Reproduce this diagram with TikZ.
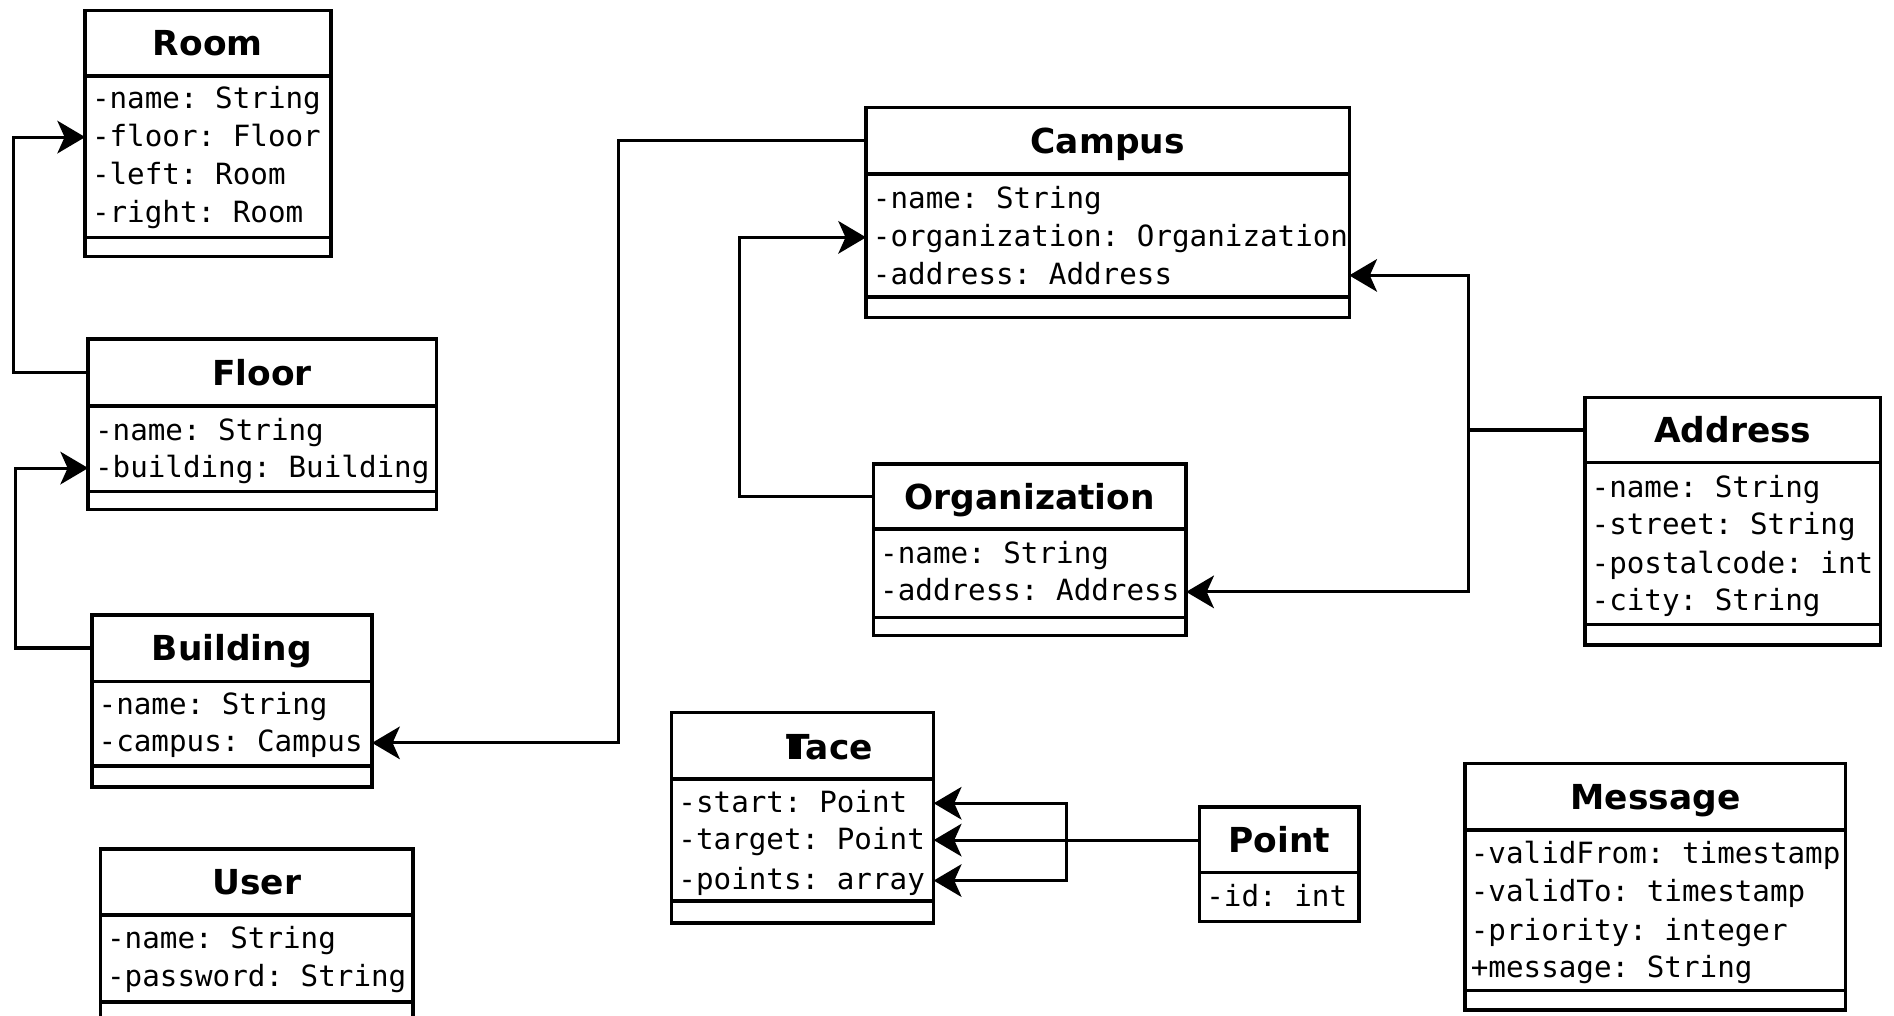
\documentclass[tikz,border=0pt]{standalone}
\usepackage{fontspec}
\setmainfont{DejaVu Sans}
\setmonofont{DejaVu Sans Mono}
\usetikzlibrary{arrows.meta}

% class box: name, left, top, right, header bottom, attribute bottom, bottom
\newcommand\umlbox[7]{%
  \node[clsbox, anchor=north west, minimum width={(#4)-(#2)}, minimum height={(#7)-(#3)}] (#1) at (#2,#3) {};
  \draw[sep] (#2,#5) -- (#4,#5);
  \draw[sep] (#2,#6) -- (#4,#6);
}

\begin{document}
\begin{tikzpicture}[x=1pt, y=-1pt,
  clsbox/.style={draw, line width=2.9pt, rectangle, inner sep=0pt, outer sep=0pt, fill=white},
  sep/.style={line width=2.9pt},
  ttl/.style={inner sep=0pt, font=\fontsize{28.5}{30}\selectfont\bfseries, text height=20.8pt, text depth=0pt},
  attr/.style={anchor=west, inner sep=0pt, font=\ttfamily\fontsize{24.2}{26}\selectfont, text height=19pt, text depth=4pt},
  conn/.style={line width=2.6pt, -{Stealth[length=23pt, width=27pt, inset=6pt]}},
  link/.style={line width=2.6pt}]
\useasboundingbox (0,0) rectangle (1568,841);
\clip (0,0) rectangle (1568,841);

% Room
\umlbox{room}{70.5}{8.5}{274}{63}{196.5}{212.5}
\node[ttl] (room-t) at (172,35.5) {Room};
\node[attr] (room-a1) at (76,82) {-name: String};
\node[attr] (room-a2) at (76,113.5) {-floor: Floor};
\node[attr] (room-a3) at (76,145) {-left: Room};
\node[attr] (room-a4) at (76,176.5) {-right: Room};

% Floor
\umlbox{floor}{73}{280.5}{361.5}{336}{407}{422}
\node[ttl] (floor-t) at (217,308.5) {Floor};
\node[attr] (floor-a1) at (78.5,357) {-name: String};
\node[attr] (floor-a2) at (78.5,387.5) {-building: Building};

% Building
\umlbox{building}{76}{509}{308}{564}{634}{651.5}
\node[ttl] (building-t) at (192,536.5) {Building};
\node[attr] (building-a1) at (81.5,584) {-name: String};
\node[attr] (building-a2) at (81.5,615) {-campus: Campus};

% User
\umlbox{user}{83}{703}{342}{757.5}{829.5}{848}
\node[ttl] (user-t) at (212.5,730) {User};
\node[attr] (user-a1) at (88.5,778) {-name: String};
\node[attr] (user-a2) at (88.5,809.5) {-password: String};

% Campus
\umlbox{campus}{717}{89}{1117}{144}{246}{263}
\node[ttl] (campus-t) at (917,116.5) {Campus};
\node[attr] (campus-a1) at (722.5,165) {-name: String};
\node[attr] (campus-a2) at (722.5,196.5) {-organization: Organization};
\node[attr] (campus-a3) at (722.5,228) {-address: Address};

% Organization
\umlbox{org}{723}{384}{982}{438}{511}{526}
\node[ttl] (org-t) at (852.5,411) {Organization};
\node[attr] (org-a1) at (728.5,459) {-name: String};
\node[attr] (org-a2) at (728.5,490) {-address: Address};

% Address
\umlbox{address}{1312}{329}{1557}{383}{517}{534}
\node[ttl] (address-t) at (1434.5,356) {Address};
\node[attr] (address-a1) at (1317.5,404) {-name: String};
\node[attr] (address-a2) at (1317.5,435) {-street: String};
\node[attr] (address-a3) at (1317.5,467) {-postalcode: int};
\node[attr] (address-a4) at (1317.5,498) {-city: String};

% Trace
\umlbox{trace}{556}{590}{773}{645}{746}{764}
\node[ttl] (trace-t) at (687,618) {\rlap{\kern0.07em\rule{0.34em}{0.72em}}Tace};
\node[attr] (trace-a1) at (561.5,665) {-start: Point};
\node[attr] (trace-a2) at (561.5,695.5) {-target: Point};
\node[attr] (trace-a3) at (561.5,729) {-points: array};

% Point
\node[clsbox, anchor=north west, minimum width=132pt, minimum height=95pt] (point) at (993,668) {};
\draw[sep] (993,722.5) -- (1125,722.5);
\node[ttl] (point-t) at (1059,695.5) {Point};
\node[attr] (point-a1) at (998.5,743) {-id: int};

% Message
\umlbox{message}{1213}{632}{1528}{687}{820}{836}
\node[ttl] (message-t) at (1370.5,659.5) {Message};
\node[attr] (message-a1) at (1217.5,707) {-validFrom: timestamp};
\node[attr] (message-a2) at (1217.5,739) {-validTo: timestamp};
\node[attr] (message-a3) at (1217.5,771) {-priority: integer};
\node[attr] (message-a4) at (1217.5,802) {+message: String};

% associations
\draw[conn] (floor.west |- floor-t) -- ++(-62,0) |- (room.west |- room-a2);
\draw[conn] (building.west |- building-t) -- ++(-63,0) |- (floor.west |- floor-a2);
\draw[conn] (campus.west |- campus-t) -- ++(-205,0) |- (building.east |- building-a2);
\draw[conn] (org.west |- org-t) -- ++(-111,0) |- (campus.west |- campus-a2);

\draw[link] (address.west |- address-t) -- ++(-96,0) coordinate (aj);
\draw[conn] (aj) |- (campus.east |- campus-a3);
\draw[conn] (aj) |- (org.east |- org-a2);

\draw[link] (point.west |- point-t) -- ++(-110,0) coordinate (pj);
\draw[conn] (pj) |- (trace.east |- trace-a1);
\draw[conn] (pj) |- (trace.east |- trace-a2);
\draw[conn] (pj) |- (trace.east |- trace-a3);
\end{tikzpicture}
\end{document}
